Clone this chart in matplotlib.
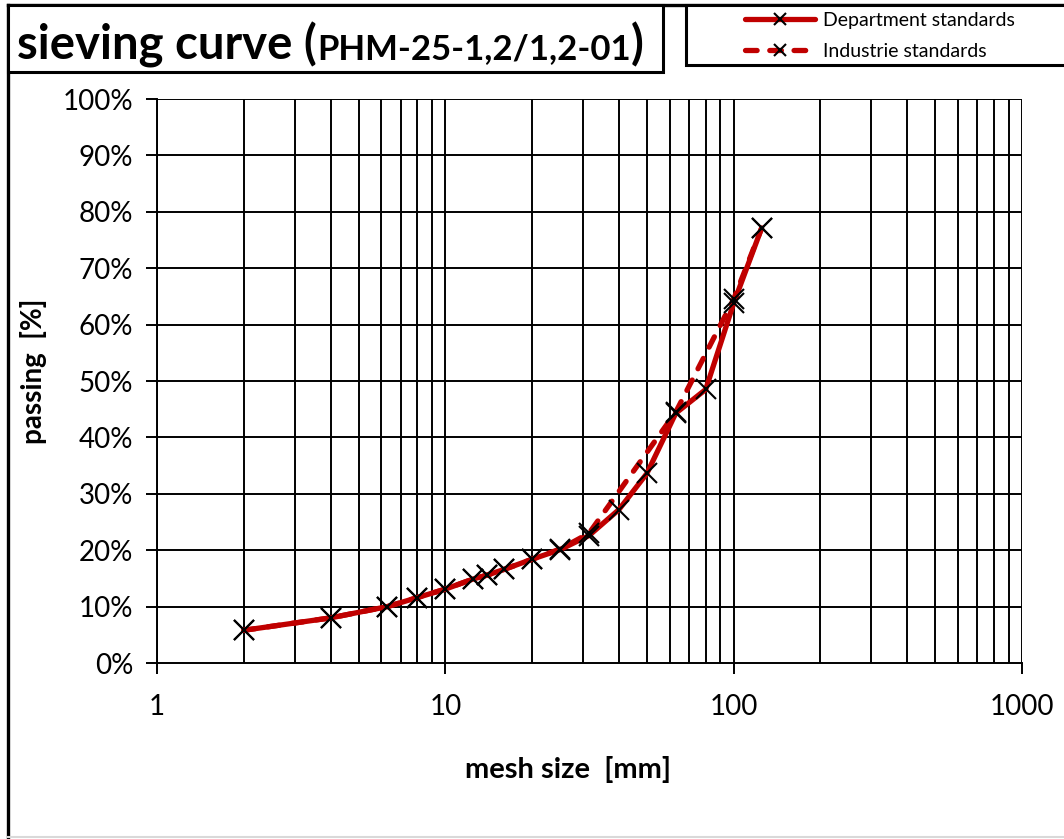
import matplotlib
matplotlib.use("Agg")
import matplotlib.pyplot as plt
from matplotlib.lines import Line2D
from matplotlib.patches import Rectangle
from matplotlib.ticker import FixedLocator, NullFormatter, FuncFormatter

plt.rcParams["font.family"] = ["Lato", "DejaVu Sans"]

# sieve sizes [mm] and passing [%]
dept_sizes = [2, 4, 6.3, 8, 10, 12.5, 14, 16, 20, 25, 31.5, 40, 50, 63, 80, 100, 125]
dept_passing = [5.8, 8.0, 10.0, 11.6, 13.1, 14.9, 15.6, 16.6, 18.4, 20.1, 22.6, 27.2, 33.6, 44.3, 48.5, 63.8, 77.1]

ind_sizes = [2, 4, 6.3, 8, 10, 12.5, 14, 16, 20, 25, 31.5, 63, 100, 125]
ind_passing = [5.8, 8.0, 10.0, 11.6, 13.1, 14.9, 15.6, 16.6, 18.4, 20.2, 23.0, 44.5, 64.5, 77.1]

x_ticks = [1, 10, 100, 1000]
y_ticks = [0, 10, 20, 30, 40, 50, 60, 70, 80, 90, 100]

RED = "#C00000"
W, H = 1064, 839

fig = plt.figure(figsize=(W / 100, H / 100), dpi=100)
ax = fig.add_axes([157 / W, 1 - 663 / H, (1022 - 157) / W, (663 - 99) / H])

# grid: every 1..9 per decade vertically, every 10 % horizontally
minor_x = [m * 10 ** d for d in range(0, 3) for m in range(2, 10)]
for xv in x_ticks + minor_x:
    ax.axvline(xv, color="black", lw=1.4, zorder=1)
for yv in y_ticks[1:]:
    ax.axhline(yv, color="black", lw=1.4, zorder=1)

ax.plot(ind_sizes, ind_passing, color=RED, lw=3.8, dashes=(2.2, 2.4),
        dash_capstyle="round", solid_joinstyle="round", zorder=3)
ax.plot(dept_sizes, dept_passing, color=RED, lw=3.8, solid_capstyle="round",
        solid_joinstyle="round", zorder=4)
ax.plot(ind_sizes, ind_passing, ls="none", marker="x", ms=14, mew=1.5,
        color="black", zorder=5)
ax.plot(dept_sizes, dept_passing, ls="none", marker="x", ms=14, mew=1.5,
        color="black", zorder=5)

ax.set_xscale("log")
ax.set_xlim(1, 1000)
ax.set_ylim(0, 100)
ax.xaxis.set_major_locator(FixedLocator(x_ticks))
ax.xaxis.set_major_formatter(FuncFormatter(lambda v, p: f"{v:g}"))
ax.xaxis.set_minor_formatter(NullFormatter())
ax.xaxis.set_minor_locator(FixedLocator([]))
ax.yaxis.set_major_locator(FixedLocator(y_ticks))
ax.yaxis.set_major_formatter(FuncFormatter(lambda v, p: f"{v:.0f}%"))

for s in ["top", "right"]:
    ax.spines[s].set_visible(False)
for s in ["left", "bottom"]:
    ax.spines[s].set_linewidth(1.4)
ax.tick_params(axis="both", direction="out", length=8, width=1.4,
               labelsize=20, colors="black")
ax.tick_params(axis="x", pad=14)
ax.tick_params(axis="y", pad=9)

ax.set_xlabel("mesh size  [mm]", fontsize=21, fontweight="bold")
ax.set_ylabel("passing  [%]", fontsize=20, fontweight="bold")
ax.xaxis.set_label_coords(0.475, -0.165)
ax.yaxis.set_label_coords(-0.127, 0.518)

# outer frame, title box and legend box
def fx(px):
    return px / W

def fy(py):
    return 1 - py / H

fig.add_artist(Line2D([fx(8), fx(8)], [fy(5), fy(837)], color="black", lw=2.4))
fig.add_artist(Line2D([fx(8), fx(W)], [fy(5), fy(5)], color="black", lw=2.4))
fig.add_artist(Line2D([fx(8), fx(W)], [fy(837), fy(837)], color="#d9d9d9", lw=1.5))
fig.add_artist(Rectangle((fx(8), fy(72)), fx(663) - fx(8), fy(5) - fy(72),
                         transform=fig.transFigure, fill=True, facecolor="white",
                         edgecolor="black", lw=2.2, zorder=10))
fig.add_artist(Rectangle((fx(686), fy(65)), fx(W + 5) - fx(686), fy(5) - fy(65),
                         transform=fig.transFigure, fill=True, facecolor="white",
                         edgecolor="black", lw=2.2, zorder=10))

# title in two sizes
renderer = fig.canvas.get_renderer()
x0 = fx(17)
parts = [("sieving curve (", 34), ("PHM-25-1,2/1,2-01", 25), (")", 34)]
for txt, size in parts:
    t = fig.text(x0, fy(59), txt, fontsize=size, fontweight="bold",
                 va="baseline", ha="left", zorder=11)
    bb = t.get_window_extent(renderer)
    x0 = bb.x1 / W

handles = [
    Line2D([], [], color=RED, lw=3.8, marker="x", ms=9, mew=1.5,
           mec="black", solid_capstyle="round"),
    Line2D([], [], color=RED, lw=3.8, dashes=(2.2, 2.4), dash_capstyle="round",
           marker="x", ms=9, mew=1.5, mec="black"),
]
leg = fig.legend(handles, ["Department standards", "Industrie standards"],
                 loc="upper left", bbox_to_anchor=(fx(745), fy(12)),
                 frameon=False, fontsize=14, handlelength=3.6,
                 handletextpad=0.4, labelspacing=0.7, borderaxespad=0,
                 borderpad=0)
leg.set_zorder(12)

fig.savefig("out.png", dpi=100)
